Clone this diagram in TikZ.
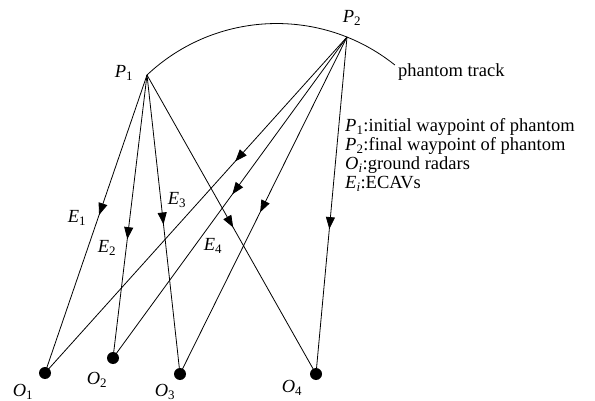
\documentclass[tikz,border=0pt]{standalone}
\usepackage{fontspec}
\setmainfont{Liberation Serif}
\usetikzlibrary{arrows.meta,decorations.markings}
\newcommand\myvar[2]{\textit{#1}\textsubscript{#2}}
\tikzset{
  lbl/.style={inner sep=0pt,font=\fontsize{18.5}{19}\selectfont},
  radar/.style={circle,fill=black,inner sep=0pt,minimum size=12pt},
  pt/.style={inner sep=0pt,minimum size=0pt},
  ecav/.style={line width=0.8pt,postaction={decorate},
    decoration={markings,mark=at position #1 with {\arrow{Triangle[width=9pt,length=12pt]}}}},
}
\begin{document}
\begin{tikzpicture}[x=1pt,y=1pt]
\useasboundingbox (0,0) rectangle (595,-401);
\node[pt] (P1) at (147,-75) {};
\node[pt] (P2) at (347,-37) {};
\node[radar] (O1) at (45,-373) {};
\node[radar] (O2) at (113,-358) {};
\node[radar] (O3) at (180,-374) {};
\node[radar] (O4) at (316,-374) {};
% phantom track
\draw[line width=0.8pt] (P1.center) arc[start angle=133.3,end angle=51.3,radius=189.1] coordinate (T);
\node[lbl,anchor=west] (pt) at (398,-72) {phantom track};
% labels
\node[lbl] (lP1) at (124,-73) {\myvar{P}{1}};
\node[lbl] (lP2) at (352,-18) {\myvar{P}{2}};
\node[lbl] (lE1) at (77,-218) {\myvar{E}{1}};
\node[lbl] (lE2) at (107,-248) {\myvar{E}{2}};
\node[lbl] (lE3) at (177,-200) {\myvar{E}{3}};
\node[lbl] (lE4) at (213,-246) {\myvar{E}{4}};
\node[lbl] (lO1) at (23,-392) {\myvar{O}{1}};
\node[lbl] (lO2) at (97,-380) {\myvar{O}{2}};
\node[lbl] (lO3) at (165,-392) {\myvar{O}{3}};
\node[lbl] (lO4) at (292,-388) {\myvar{O}{4}};
% ECAV paths
\draw[ecav=0.47] (P1.center) -- (O1.center);
\draw[ecav=0.58] (P1.center) -- (O2.center);
\draw[ecav=0.50] (P1.center) -- (O3.center);
\draw[ecav=0.51] (P1.center) -- (O4.center);
\draw[ecav=0.37] (P2.center) -- (O1.center);
\draw[ecav=0.49] (P2.center) -- (O2.center);
\draw[ecav=0.52] (P2.center) -- (O3.center);
\draw[ecav=0.57] (P2.center) -- (O4.center);
% legend
\node[lbl,anchor=base west,align=left] (leg) at (345,-189)
  {\myvar{P}{1}:initial waypoint of phantom\\
   \myvar{P}{2}:final waypoint of phantom\\
   \myvar{O}{\textit{i}}:ground radars\\
   \myvar{E}{\textit{i}}:ECAVs};
\end{tikzpicture}
\end{document}
